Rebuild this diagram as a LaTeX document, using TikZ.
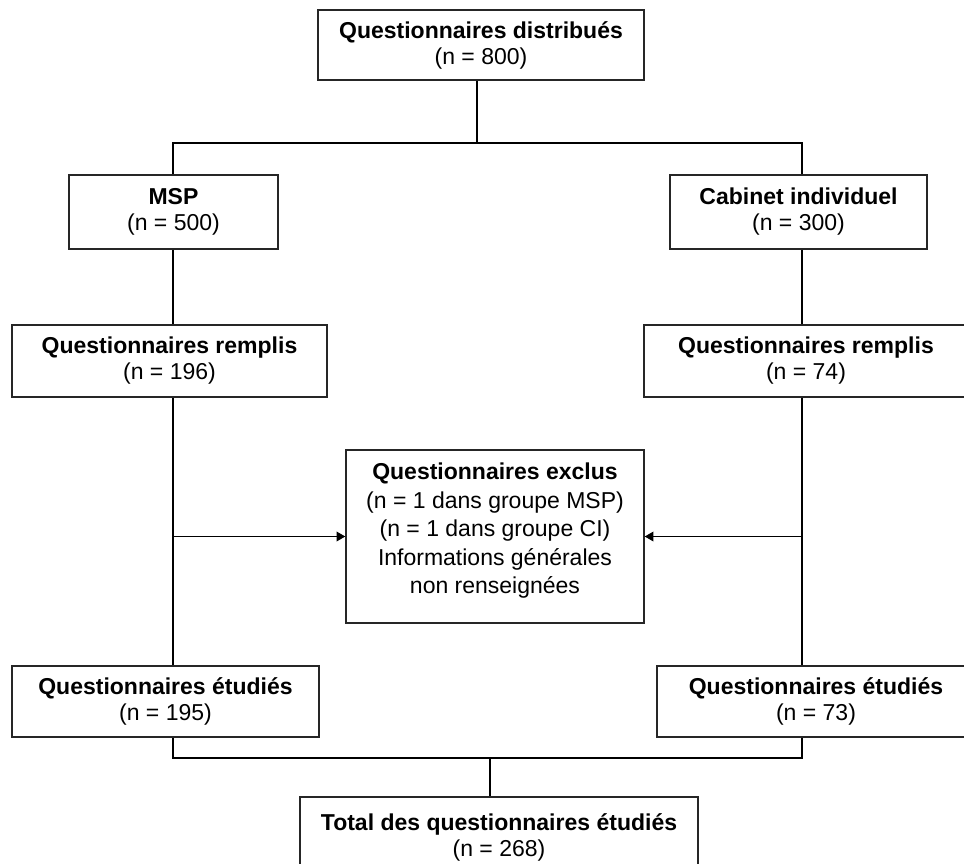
\documentclass[tikz,border=0pt]{standalone}
\usepackage{fontspec}
\setmainfont{Liberation Sans}
\usepackage{tikz}
\usetikzlibrary{arrows}
\usetikzlibrary{positioning}
\tikzstyle{etape}=[rectangle,draw=black!85,line width=1.5pt,inner sep=0mm,align=center,font=\fontsize{23}{26}\selectfont]
\tikzstyle{fleche}=[->,>=triangle 60]
\tikzset{every picture/.style={
    line width=1.4pt
  }
}

\begin{document}
\begin{tikzpicture}[x=1pt,y=-1pt]
        \clip (0,0) rectangle (964,863);
        \node[etape,minimum width=326pt,minimum height=70pt] at (481,45) (dist) {\textbf{Questionnaires distribués}\\(n = 800)};
        \node[etape,minimum width=209pt,minimum height=74pt] at (173.5,212) (msp) {\textbf{MSP}\\(n = 500)};
        \node[etape,minimum width=257pt,minimum height=74pt] at (798.5,212) (cab) {\textbf{Cabinet individuel}\\(n = 300)};
        \node[etape,minimum width=315pt,minimum height=72pt] at (169.5,361) (remL) {\textbf{Questionnaires remplis}\\(n = 196)};
        \node[etape,minimum width=324pt,minimum height=72pt] at (806,361) (remR) {\textbf{Questionnaires remplis}\\(n = 74)};
        \node[etape,minimum width=298pt,minimum height=173pt,font=\fontsize{23}{28.5}\selectfont] at (495,536.5) (excl) {\textbf{Questionnaires exclus}\\(n = 1 dans groupe MSP)\\(n = 1 dans groupe CI)\\Informations générales\\non renseignées\\[-12pt]};
        \node[etape,minimum width=307pt,minimum height=71pt] at (165.5,701.5) (etuL) {\textbf{Questionnaires étudiés}\\(n = 195)};
        \node[etape,minimum width=318pt,minimum height=71pt] at (816,701.5) (etuR) {\textbf{Questionnaires étudiés}\\(n = 73)};
        \node[etape,minimum width=398pt,minimum height=80pt] at (499,837) (total) {\textbf{Total des questionnaires étudiés}\\(n = 268)};
        \coordinate (jtop) at (477,143);
        \coordinate (lcol) at (173,143);
        \coordinate (rcol) at (802,143);
        \coordinate (jbot) at (490,758);
        \draw (dist.south -| jtop) -- (jtop);
        \draw (msp.north -| lcol) -- (lcol) -- (rcol) -- (cab.north -| rcol);
        \draw (msp.south -| lcol) -- (remL.north -| lcol);
        \draw (cab.south -| rcol) -- (remR.north -| rcol);
        \draw (remL.south -| lcol) -- (etuL.north -| lcol);
        \draw (remR.south -| rcol) -- (etuR.north -| rcol);
        \draw[fleche] (excl.west -| lcol) -- (excl.west);
        \draw[fleche] (excl.east -| rcol) -- (excl.east);
        \draw (etuL.south -| lcol) -- (lcol |- jbot) -- (rcol |- jbot) -- (etuR.south -| rcol);
        \draw (jbot) -- (total.north -| jbot);
      \end{tikzpicture}
\end{document}
